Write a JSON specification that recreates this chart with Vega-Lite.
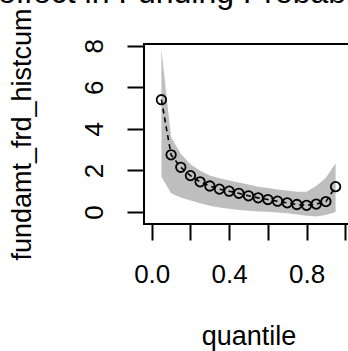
{
  "$schema": "https://vega.github.io/schema/vega-lite/v6.json",
  "autosize": {"type": "none"},
  "padding": {"left": 144, "top": 44, "right": 0, "bottom": 127},
  "width": 209,
  "height": 180,
  "background": "white",
  "config": {
    "font": "Liberation Sans",
    "view": {"stroke": "black", "strokeWidth": 2},
    "axis": {
      "domain": false,
      "grid": false,
      "tickColor": "black",
      "tickWidth": 2,
      "labelColor": "black",
      "labelFontSize": 26,
      "titleColor": "black",
      "titleFontSize": 27,
      "titleFontWeight": "normal"
    }
  },
  "title": {
    "text": "effect in Funding Probability",
    "anchor": "start",
    "frame": "group",
    "dx": -146,
    "dy": 30,
    "offset": 3,
    "fontSize": 32,
    "fontWeight": "normal",
    "color": "black",
    "baseline": "alphabetic"
  },
  "data": {
    "values": [
      {"q": 0.05, "m": 5.4, "lo": 1.7, "hi": 7.8},
      {"q": 0.10, "m": 2.75, "lo": 0.9, "hi": 3.6},
      {"q": 0.15, "m": 2.15, "lo": 0.7, "hi": 2.8},
      {"q": 0.20, "m": 1.75, "lo": 0.55, "hi": 2.3},
      {"q": 0.25, "m": 1.45, "lo": 0.42, "hi": 1.98},
      {"q": 0.30, "m": 1.25, "lo": 0.3, "hi": 1.76},
      {"q": 0.35, "m": 1.1, "lo": 0.22, "hi": 1.62},
      {"q": 0.40, "m": 1.0, "lo": 0.16, "hi": 1.52},
      {"q": 0.45, "m": 0.9, "lo": 0.1, "hi": 1.42},
      {"q": 0.50, "m": 0.78, "lo": 0.06, "hi": 1.32},
      {"q": 0.55, "m": 0.68, "lo": 0.03, "hi": 1.22},
      {"q": 0.60, "m": 0.6, "lo": 0.01, "hi": 1.15},
      {"q": 0.65, "m": 0.52, "lo": -0.02, "hi": 1.08},
      {"q": 0.70, "m": 0.44, "lo": -0.06, "hi": 1.03},
      {"q": 0.75, "m": 0.36, "lo": -0.12, "hi": 0.98},
      {"q": 0.80, "m": 0.32, "lo": -0.18, "hi": 0.98},
      {"q": 0.85, "m": 0.38, "lo": -0.22, "hi": 1.25},
      {"q": 0.90, "m": 0.5, "lo": -0.15, "hi": 1.65},
      {"q": 0.95, "m": 1.22, "lo": 0.0, "hi": 2.35}
    ]
  },
  "encoding": {
    "x": {
      "field": "q",
      "type": "quantitative",
      "scale": {"domain": [-0.04, 1.04], "nice": false, "zero": false},
      "axis": {
        "title": "quantile",
        "values": [0, 0.2, 0.4, 0.6, 0.8, 1.0],
        "labelExpr": "indexof([0, 0.4, 0.8], datum.value) >= 0 ? format(datum.value, '.1f') : ''",
        "tickSize": 16,
        "labelPadding": 21,
        "labelFlush": false,
        "labelOverlap": false,
        "titlePadding": 36
      }
    }
  },
  "layer": [
    {
      "mark": {"type": "area", "color": "#bebebe"},
      "encoding": {
        "y": {
          "field": "lo",
          "type": "quantitative",
          "scale": {"domain": [-0.577, 8.08], "nice": false, "zero": false},
          "axis": {
            "title": "fundamt_frd_histcum",
            "values": [0, 2, 4, 6, 8],
            "labelAngle": -90,
            "labelAlign": "center",
            "labelBaseline": "bottom",
            "tickSize": 17,
            "labelPadding": 20,
            "labelFlush": false,
            "labelOverlap": false,
            "titlePadding": 45
          }
        },
        "y2": {"field": "hi"}
      }
    },
    {
      "mark": {"type": "line", "color": "black", "strokeWidth": 1.6, "strokeDash": [5, 4]},
      "encoding": {"y": {"field": "m", "type": "quantitative"}}
    },
    {
      "mark": {"type": "point", "shape": "circle", "filled": false, "color": "black", "opacity": 1, "size": 90, "strokeWidth": 1.8},
      "encoding": {"y": {"field": "m", "type": "quantitative"}}
    }
  ]
}
